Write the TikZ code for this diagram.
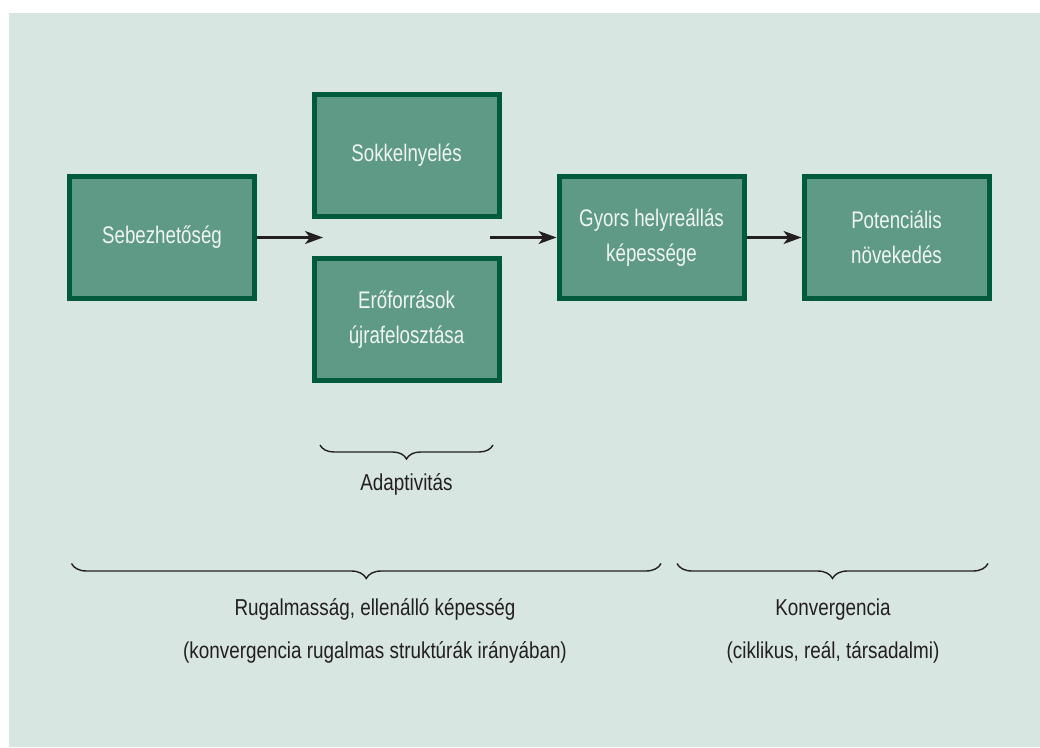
\documentclass[tikz,border=0pt]{standalone}
\usepackage{fontspec}
\setmainfont{Liberation Sans}
\newfontfamily\boxfont[FakeStretch=0.78]{Liberation Sans}
\newfontfamily\lblfont[FakeStretch=0.82]{Liberation Sans}
\usetikzlibrary{arrows.meta,decorations.pathreplacing}
\definecolor{bg}{HTML}{D8E6E1}
\definecolor{boxfill}{HTML}{5F9A86}
\definecolor{boxline}{HTML}{005A3C}
\definecolor{ink}{HTML}{231F20}
\definecolor{boxtext}{HTML}{F0F5F2}
\begin{document}
\begin{tikzpicture}[x=1pt,y=1pt,
  box/.style={draw=boxline, fill=boxfill, line width=5pt, minimum width=185pt, minimum height=122pt, inner sep=0pt, text=boxtext, align=center, font=\boxfont\fontsize{24}{35}\selectfont},
  arr/.style={draw=ink, line width=2.2pt, -{Stealth[length=18pt,width=13pt,inset=5pt]}},
  brc/.style={draw=ink, line width=1.4pt, decorate, decoration={brace,mirror,amplitude=#1}},
  brc/.default=15pt,
  lbl/.style={text=ink, font=\lblfont\fontsize{23}{26}\selectfont, anchor=base, inner sep=0pt}]
\useasboundingbox (0,0) rectangle (1040,747);
\fill[bg] (9,0) rectangle (1040,734);

\node[box] (seb) at (162,509.5) {Sebezhetőség};
\node[box] (sok) at (406.5,591.5) {Sokkelnyelés};
\node[box] (ero) at (406.5,427.5) {Erőforrások\\újrafelosztása};
\node[box] (gyo) at (651.5,509.5) {Gyors helyreállás\\képessége};
\node[box] (pot) at (896.5,509.5) {Potenciális\\növekedés};

\coordinate (a1) at (323,509.5);
\coordinate (a2) at (490,509.5);
\draw[arr] (seb.east) -- (a1);
\draw[arr] (a2) -- (gyo.west);
\draw[arr] (gyo.east) -- (pot.west);

\coordinate (b1l) at (320,302);
\coordinate (b1r) at (493,302);
\draw[brc=14pt] (b1l) -- (b1r);
\node[lbl] (adapt) at (406.5,256) {Adaptivitás};

\coordinate (b2l) at (71.5,183.5);
\coordinate (b2r) at (661,183.5);
\draw[brc] (b2l) -- (b2r);
\coordinate (b3l) at (677,183.5);
\coordinate (b3r) at (988,183.5);
\draw[brc] (b3l) -- (b3r);

\node[lbl] (rug1) at (375,132) {Rugalmasság, ellenálló képesség};
\node[lbl] (rug2) at (375,89) {(konvergencia rugalmas struktúrák irányában)};
\node[lbl] (kon1) at (833,132) {Konvergencia};
\node[lbl] (kon2) at (833,89) {(ciklikus, reál, társadalmi)};
\end{tikzpicture}
\end{document}
